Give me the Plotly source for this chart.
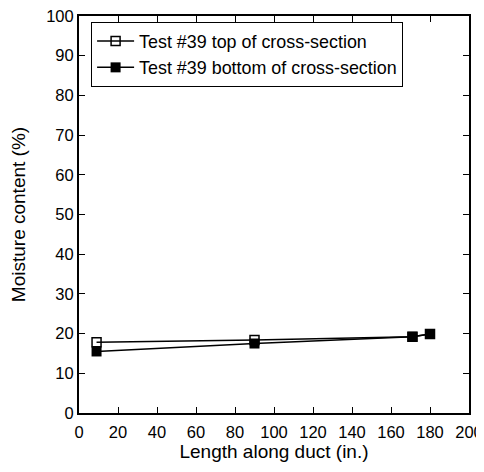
import plotly.graph_objects as go

x_vals = [9, 90, 171, 180]
top_vals = [17.8, 18.4, 19.2, 19.9]
bottom_vals = [15.5, 17.5, 19.2, 19.9]
x_ticks = list(range(0, 201, 20))
y_ticks = list(range(0, 101, 10))

FONT = "Liberation Sans, Arial"

fig = go.Figure()
fig.add_trace(go.Scatter(
    x=x_vals, y=top_vals, mode="lines+markers",
    name="Test #39 top of cross-section",
    line=dict(color="black", width=1.5),
    marker=dict(symbol="square-open", size=9, color="black", line=dict(width=1.5)),
))
fig.add_trace(go.Scatter(
    x=x_vals, y=bottom_vals, mode="lines+markers",
    name="Test #39 bottom of cross-section",
    line=dict(color="black", width=1.5),
    marker=dict(symbol="square", size=10, color="black"),
))

axis_common = dict(
    showgrid=False, zeroline=False, showline=True, linecolor="black", linewidth=2,
    mirror="ticks", ticks="inside", ticklen=6, tickwidth=1, tickcolor="black",
    automargin=False, ticklabeloverflow="allow",
    tickfont=dict(family=FONT, size=16.5, color="black"),
)
fig.update_xaxes(range=[0, 200], tickvals=x_ticks, ticklabelstandoff=3, **axis_common,
                 title=dict(text="Length along duct (in.)", standoff=2,
                            font=dict(family=FONT, size=19, color="black")))
fig.update_yaxes(range=[0, 100], tickvals=y_ticks, **axis_common,
                 title=dict(text="Moisture content (%)", standoff=22,
                            font=dict(family=FONT, size=19, color="black")))

fig.update_layout(
    template="none",
    width=476, height=456,
    margin=dict(l=71, r=15, t=8, b=51),
    plot_bgcolor="white", paper_bgcolor="white",
    font=dict(family=FONT, color="black"),
    legend=dict(x=0.031, y=0.985, xanchor="left", yanchor="top",
                bgcolor="white", bordercolor="black", borderwidth=1,
                font=dict(family=FONT, size=17.9, color="black"),
                tracegroupgap=0, itemwidth=37),
    showlegend=True,
)

fig.write_html("out.html")
